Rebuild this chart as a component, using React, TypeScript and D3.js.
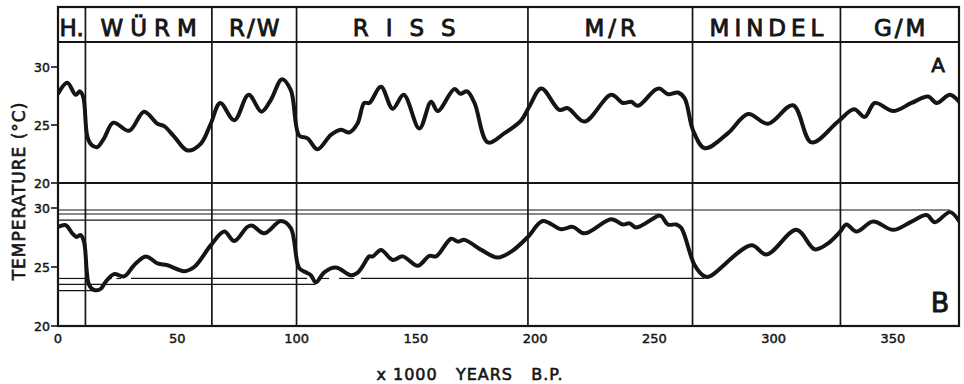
import React from "react";
import * as d3 from "d3";

// stage boundaries (x 1000 years B.P.) and header names
const boundaries = [0, 11.5, 64.5, 100, 197, 266, 328, 377.7];
const stages = ["H.", "WÜRM", "R/W", "RISS", "M/R", "MINDEL", "G/M"];

const xTicks = [0, 50, 100, 150, 200, 250, 300, 350];
const yTicks = [20, 25, 30];

// curve A: [ka, °C]
const seriesA: [number, number][] = [
  [0, 27.7], [3.9, 28.65], [7.4, 27.6], [9.2, 27.9], [10.6, 27.4], [12.3, 24.0], [14, 23.3],
  [16.5, 23.1], [19.3, 23.85], [23.2, 25.2], [29.8, 24.5], [36.1, 26.15], [41.7, 25.1],
  [44.5, 24.9], [48.7, 24.0], [54.3, 22.8], [59.9, 23.4], [64.1, 25.15], [68, 26.9],
  [73.9, 25.4], [79.9, 27.6], [85.3, 26.15], [89.2, 27.15], [93.9, 28.95], [97.6, 28.0],
  [101.1, 24.1], [104.6, 23.85], [108.8, 22.9], [114.4, 24.15], [118.6, 24.6], [122.1, 24.35],
  [125.5, 25.1], [128.4, 26.9], [130.5, 26.9], [135.4, 28.3], [140.3, 26.4], [144.9, 27.6],
  [151.5, 24.7], [156.4, 27.0], [159.2, 26.2], [166.2, 28.1], [168.7, 27.7], [171.5, 27.9],
  [174.6, 26.9], [180.2, 23.5], [187.2, 24.3], [194.2, 25.4], [197.6, 26.6], [202.6, 28.15],
  [210.2, 26.3], [213.7, 26.45], [220.7, 25.3], [231.9, 27.6], [236.8, 26.9], [240.3, 27.0],
  [243.1, 26.65], [250.1, 28.0], [252.2, 28.15], [255.7, 27.65], [259.9, 27.8], [262.7, 27.3],
  [266.2, 24.55], [271.1, 23.0], [280.9, 24.3], [289.3, 25.95], [297.6, 25.1], [308.1, 26.7],
  [315.9, 23.5], [327, 25.3], [333.7, 26.35], [338.2, 25.7], [342.4, 26.9], [350.1, 26.2],
  [357.8, 26.9], [364.8, 27.45], [368.3, 26.9], [373.9, 27.6], [377.7, 27.0],
];

// curve B: [ka, °C]
const seriesB: [number, number][] = [
  [0, 28.4], [3.2, 28.55], [6, 27.85], [7.8, 27.55], [9.5, 27.7], [10.9, 27.15], [13, 23.5],
  [15.1, 23.05], [17.9, 23.15], [20, 23.75], [23.5, 24.4], [27.7, 24.2], [31.9, 25.15],
  [36.8, 25.9], [41.7, 25.3], [45.9, 25.15], [52.9, 24.65], [57.1, 25.0], [64.1, 26.85],
  [69.7, 28.0], [73.9, 27.2], [79.4, 28.4], [81.5, 28.5], [86.4, 27.85], [93.5, 28.9],
  [97.6, 28.3], [101.1, 24.9], [103.9, 24.55], [106, 24.3], [108.1, 23.7], [111.6, 24.55],
  [116.5, 24.95], [122.8, 24.3], [125.5, 24.5], [127.5, 25.0], [130.5, 25.9], [132, 25.9],
  [135.4, 26.45], [140.3, 25.6], [144.5, 25.9], [150.8, 25.1], [155.7, 25.95], [158.5, 25.9],
  [164.8, 27.4], [167.6, 27.15], [170.4, 27.3], [177.4, 26.45], [184.3, 25.8], [190, 26.3],
  [197, 27.55], [203.2, 28.9], [210.9, 28.2], [215.8, 28.4], [220.7, 27.85], [231.9, 29.05],
  [236.8, 28.6], [239.6, 28.7], [242.4, 28.35], [251.8, 29.35], [253, 29.3], [255.7, 28.6],
  [259.2, 28.6], [261.3, 28.3], [266.9, 25.15], [271.1, 24.2], [273.2, 24.2], [290.7, 26.85],
  [297, 26.05], [309.6, 28.15], [317.2, 26.5], [322.8, 27.0], [327.7, 27.95], [330.5, 28.6],
  [334.7, 28.0], [341.7, 28.85], [350.1, 28.15], [357.8, 28.85], [364.1, 29.4], [367.6, 28.8],
  [373.9, 29.65], [377.7, 28.9],
];

// reference levels in panel B: temperature and [from, to] pieces in ka
const levelsB: { t: number; parts: [number, number][] }[] = [
  { t: 29.83, parts: [[0, 374]] },
  { t: 29.49, parts: [[0, 252]] },
  { t: 28.98, parts: [[0, 93.5]] },
  { t: 24.03, parts: [[0, 12], [20.5, 22.6], [24.5, 26.5], [30.6, 104.4], [110.2, 113.6], [117.8, 124.1], [127, 271]] },
  { t: 23.52, parts: [[0, 108]] },
  { t: 23.0, parts: [[0, 15]] },
];

// lettering tweaks for the header (spacing, nudge)
const spacing: Record<string, number> = {
  "H.": 0, "WÜRM": 7, "R/W": 2, "RISS": 17, "M/R": 4, "MINDEL": 5, "G/M": 3,
};
const nudge: Record<string, number> = { "RISS": -8 };

const INK = "#151515";
const FONT = "'DejaVu Sans', sans-serif";

export default function App() {
  const top = 7, head = 42, mid = 183, bottom = 326;
  const x = d3.scaleLinear().domain([0, 377.7]).range([58, 959]);
  const yA = d3.scaleLinear().domain([20, 30]).range([mid, 67]);
  const yB = d3.scaleLinear().domain([20, 30]).range([bottom, 208]);

  const lineA = d3.line<[number, number]>().x(d => x(d[0])).y(d => yA(d[1])).curve(d3.curveCatmullRom.alpha(0.5));
  const lineB = d3.line<[number, number]>().x(d => x(d[0])).y(d => yB(d[1])).curve(d3.curveCatmullRom.alpha(0.5));

  const x0 = x(0), x1 = x(377.7);

  return (
    <svg width={964} height={384} style={{ position: "absolute", left: 0, top: 0, background: "#fff" }}
      fontFamily={FONT} fill={INK}>
      <defs>
        <clipPath id="clipA"><rect x={x0} y={head} width={x1 - x0} height={mid - head} /></clipPath>
        <clipPath id="clipB"><rect x={x0} y={mid} width={x1 - x0} height={bottom - mid} /></clipPath>
      </defs>

      {/* stage boundaries */}
      {boundaries.slice(1, -1).map(b => (
        <line key={b} x1={x(b)} x2={x(b)} y1={top} y2={bottom} stroke={INK} strokeWidth={1.7} />
      ))}

      {/* stage names */}
      {stages.map((s, i) => {
        const cx = (x(boundaries[i]) + x(boundaries[i + 1])) / 2 + (nudge[s] ?? 0);
        const ls = spacing[s];
        return (
          <text key={s} x={cx + ls / 2} y={35.5} textAnchor="middle" fontSize={23} letterSpacing={ls}
            stroke={INK} strokeWidth={0.9}>{s}</text>
        );
      })}

      {/* level lines B */}
      {levelsB.map((l, i) => l.parts.map((p, j) => (
        <line key={i + "-" + j} x1={x(p[0])} x2={x(p[1])} y1={yB(l.t)} y2={yB(l.t)} stroke={INK} strokeWidth={1.2} />
      )))}

      <path d={lineA(seriesA) ?? ""} fill="none" stroke={INK} strokeWidth={4} strokeLinejoin="round" strokeLinecap="round" clipPath="url(#clipA)" />
      <path d={lineB(seriesB) ?? ""} fill="none" stroke={INK} strokeWidth={4} strokeLinejoin="round" strokeLinecap="round" clipPath="url(#clipB)" />

      {/* frame */}
      <rect x={x0} y={top} width={x1 - x0} height={bottom - top} fill="none" stroke={INK} strokeWidth={2.2} />
      <line x1={x0} x2={x1} y1={head} y2={head} stroke={INK} strokeWidth={2.2} />
      <line x1={x0} x2={x1} y1={mid} y2={mid} stroke={INK} strokeWidth={2} />

      {/* y axes */}
      {[yA, yB].map((y, k) => (
        <g key={k}>
          {yTicks.map(t => (
            <g key={t}>
              <line x1={x0 - 7} x2={x0} y1={y(t)} y2={y(t)} stroke={INK} strokeWidth={1.6} />
              <text x={x0 - 8} y={y(t) + 4.5} textAnchor="end" fontSize={12.5} stroke={INK} strokeWidth={0.45}>{t}</text>
            </g>
          ))}
        </g>
      ))}

      {/* x axis labels */}
      {xTicks.map(t => (
        <text key={t} x={x(t)} y={343} textAnchor="middle" fontSize={13} stroke={INK} strokeWidth={0.45}>{t}</text>
      ))}

      <text x={938} y={72} textAnchor="middle" fontSize={20} stroke={INK} strokeWidth={0.8}>A</text>
      <text x={940} y={312} textAnchor="middle" fontSize={27} stroke={INK} strokeWidth={0.9}>B</text>

      <text transform="translate(25,191) rotate(-90)" textAnchor="middle" fontSize={17} letterSpacing={1}
        stroke={INK} strokeWidth={0.6}>TEMPERATURE  (°C)</text>

      <text x={470} y={380} textAnchor="middle" fontSize={16} letterSpacing={1} stroke={INK} strokeWidth={0.6}
        style={{ whiteSpace: "pre" }}>{"x 1000   YEARS   B.P."}</text>
    </svg>
  );
}
